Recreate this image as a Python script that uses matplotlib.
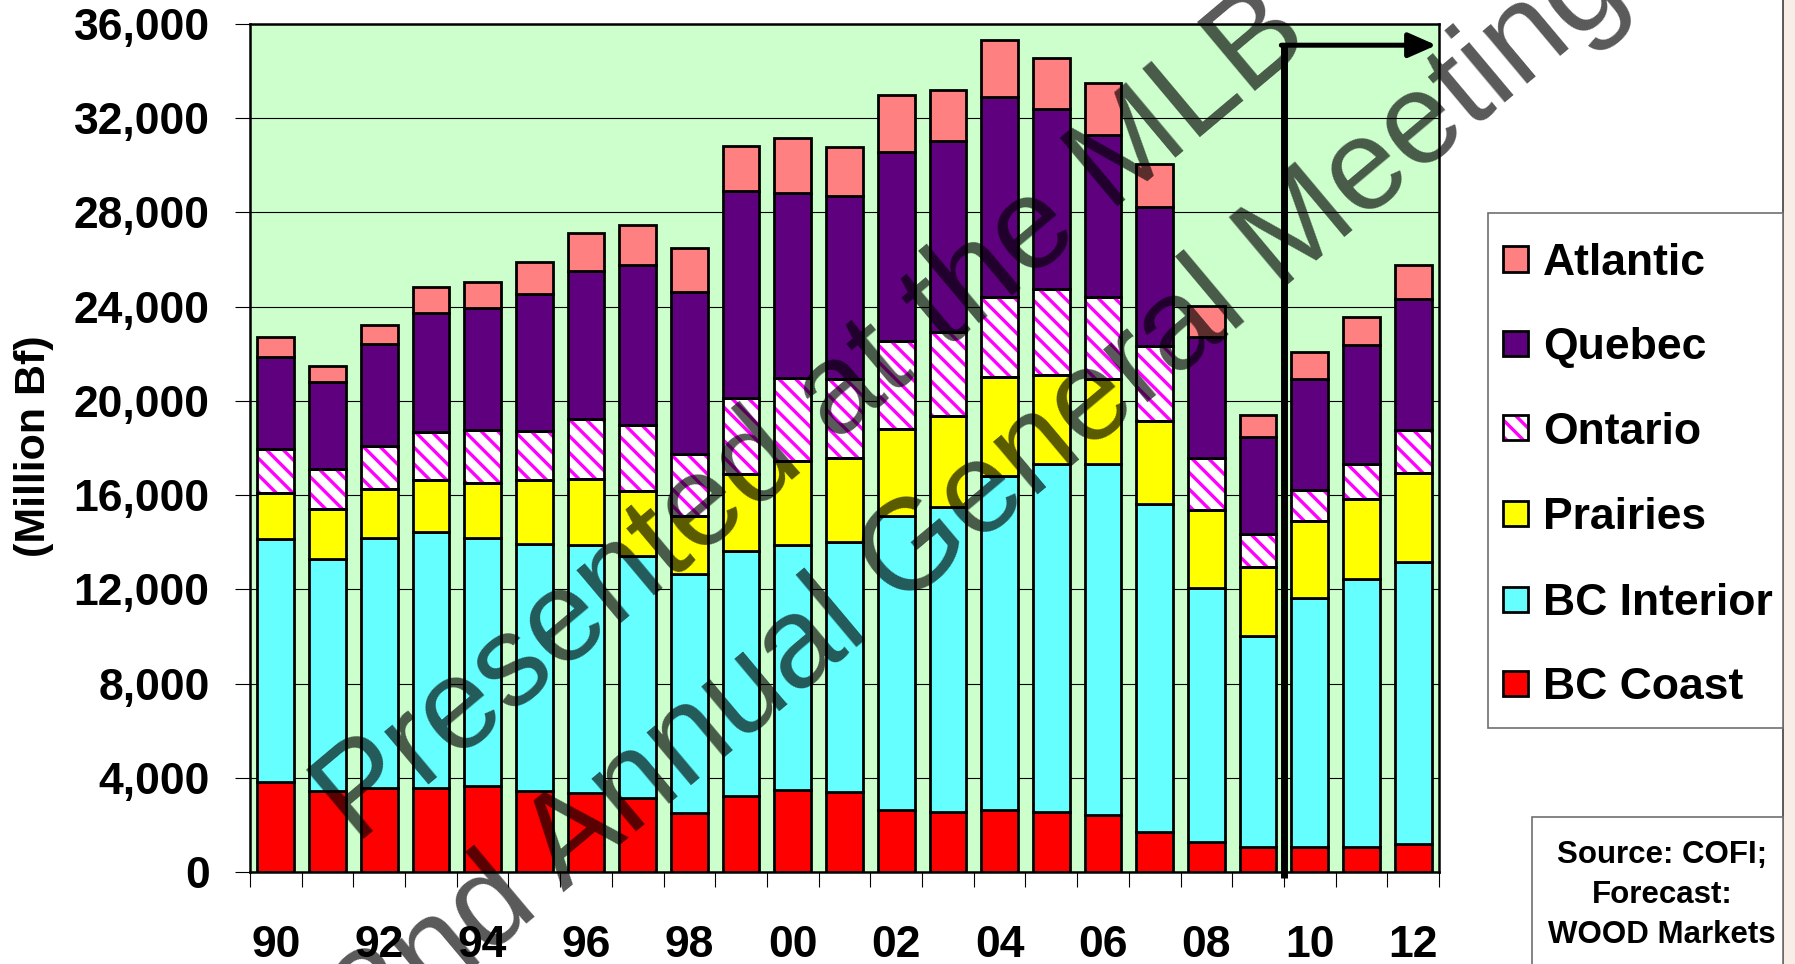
import numpy as np
import matplotlib
matplotlib.use("Agg")
import matplotlib.pyplot as plt
from matplotlib.patches import Rectangle

plt.rcParams['font.family'] = ['Liberation Sans', 'DejaVu Sans']
plt.rcParams['hatch.linewidth'] = 2.4

# ── Canadian lumber production by region (million board feet) ──
years = list(range(1990, 2013))
year_labels = [f"{y % 100:02d}" for y in years]
forecast_start = 2010

bc_coast = [3800, 3450, 3570, 3570, 3650, 3450, 3370, 3130, 2510, 3230, 3470, 3380,
            2640, 2530, 2640, 2530, 2410, 1680, 1290, 1050, 1050, 1050, 1170]
bc_interior = [10350, 9850, 10610, 10860, 10530, 10480, 10530, 10280, 10160, 10380, 10430, 10630,
               12490, 12970, 14190, 14770, 14890, 13940, 10750, 8960, 10570, 11390, 11990]
prairies = [1950, 2100, 2070, 2210, 2320, 2710, 2780, 2780, 2450, 3290, 3530, 3550,
            3690, 3840, 4170, 3810, 3630, 3510, 3320, 2920, 3270, 3410, 3790]
ontario = [1850, 1720, 1820, 2050, 2280, 2100, 2570, 2800, 2640, 3210, 3560, 3350,
           3740, 3570, 3390, 3630, 3460, 3200, 2220, 1400, 1310, 1450, 1820]
quebec = [3920, 3680, 4330, 5020, 5180, 5800, 6260, 6760, 6850, 8810, 7830, 7790,
          8000, 8140, 8510, 7640, 6890, 5890, 5150, 4140, 4730, 5080, 5550]
atlantic = [860, 700, 840, 1130, 1100, 1360, 1610, 1720, 1880, 1880, 2320, 2070,
            2410, 2150, 2400, 2180, 2200, 1820, 1310, 940, 1160, 1190, 1450]

regions = ['BC Coast', 'BC Interior', 'Prairies', 'Ontario', 'Quebec', 'Atlantic']
series = [bc_coast, bc_interior, prairies, ontario, quebec, atlantic]
colors = ['#FF0000', '#66FFFF', '#FFFF00', '#FFFFFF', '#5F007F', '#FF8080']
HATCHED = 'Ontario'
HATCH_COLOR = '#FF00FF'
HATCH = '\\\\'

W, H = 1795, 964
fig = plt.figure(figsize=(W / 100, H / 100), dpi=100)
fig.patch.set_facecolor('white')

# faint strip at the right edge of the slide
fig.add_artist(Rectangle((1783 / W, 0), 1 - 1783 / W, 1, transform=fig.transFigure,
                         facecolor='#F9EDE7', edgecolor='none', zorder=0))
fig.add_artist(plt.Line2D([1783 / W, 1783 / W], [0, 1], transform=fig.transFigure,
                          color='#404040', lw=1.2, zorder=1))

ax = fig.add_axes([250 / W, 1 - 872 / H, (1439 - 250) / W, (872 - 24) / H])
ax.set_facecolor('#CCFFCC')

x = np.arange(len(years))
bottom = np.zeros(len(years))
for name, vals, col in zip(regions, series, colors):
    vals = np.array(vals, dtype=float)
    if name == HATCHED:
        ax.bar(x, vals, 0.71, bottom=bottom, color='white', edgecolor=HATCH_COLOR,
               hatch=HATCH, lw=0, zorder=2)
        ax.bar(x, vals, 0.71, bottom=bottom, fill=False, edgecolor='black', lw=2, zorder=3)
    else:
        ax.bar(x, vals, 0.71, bottom=bottom, color=col, edgecolor='black', lw=2, zorder=3)
    bottom += vals

# axes, ticks, grid
ax.set_xlim(-0.5, len(years) - 0.5)
ax.set_ylim(0, 36000)
yt = np.arange(0, 36001, 4000)
ax.set_yticks(yt)
ax.set_yticklabels([f"{v:,}" for v in yt], fontweight='bold')
ax.yaxis.grid(True, color='black', lw=0.8)
ax.set_axisbelow(True)
ax.tick_params(axis='y', length=11, width=0.8, pad=18, labelsize=32)

ax.set_xticks(x[::2])
ax.set_xticklabels(year_labels[::2], fontweight='bold')
ax.set_xticks(np.arange(-0.5, len(years)), minor=True)
ax.tick_params(axis='x', which='major', length=0, pad=38, labelsize=32)
ax.tick_params(axis='x', which='minor', length=11, width=0.8)
for s in ax.spines.values():
    s.set_linewidth(1.8)
    s.set_color('black')

fig.text(34 / W, 1 - 446 / H, '(Million Bf)', rotation=90, ha='center', va='center',
         fontsize=31, fontweight='bold')

# forecast marker
fx = years.index(forecast_start) - 0.5
ax.plot([fx, fx], [-250, 35100], color='black', lw=5, solid_capstyle='butt',
        clip_on=False, zorder=6)
ax.annotate('', xy=(len(years) - 0.55, 35100), xytext=(fx - 0.05, 35100),
            arrowprops=dict(arrowstyle='-|>,head_length=1.7,head_width=0.75',
                            mutation_scale=10, lw=3.6, color='black',
                            shrinkA=0, shrinkB=0), zorder=6)

# legend box
fig.add_artist(Rectangle((1488 / W, 1 - 728 / H), (1783 - 1488) / W, (728 - 213) / H,
                         transform=fig.transFigure, facecolor='white',
                         edgecolor='#707070', lw=1.2, zorder=2))
row_y = [259, 343, 428, 513, 599, 683]
for yy, name, col in zip(row_y, regions[::-1], colors[::-1]):
    s = 25
    if name == HATCHED:
        fig.add_artist(Rectangle((1503 / W, 1 - (yy + s / 2) / H), s / W, s / H,
                                 transform=fig.transFigure, facecolor='white',
                                 edgecolor=HATCH_COLOR, hatch=HATCH, lw=0, zorder=3))
        fig.add_artist(Rectangle((1503 / W, 1 - (yy + s / 2) / H), s / W, s / H,
                                 transform=fig.transFigure, fill=False,
                                 edgecolor='black', lw=2, zorder=4))
    else:
        fig.add_artist(Rectangle((1503 / W, 1 - (yy + s / 2) / H), s / W, s / H,
                                 transform=fig.transFigure, facecolor=col,
                                 edgecolor='black', lw=2, zorder=4))
    fig.text(1543 / W, 1 - yy / H, name, ha='left', va='center_baseline',
             fontsize=32, fontweight='bold', zorder=4)

# source note
fig.add_artist(Rectangle((1532 / W, -0.02), (1783 - 1532) / W, 1.02 - 817 / H,
                         transform=fig.transFigure, facecolor='white',
                         edgecolor='#707070', lw=1.2, zorder=2))
fig.text(1662 / W, 1 - 895 / H, 'Source: COFI;\nForecast:\nWOOD Markets',
         ha='center', va='center', fontsize=22.5, fontweight='bold',
         linespacing=1.42, zorder=4)

# overlay text
fig.text(813 / W, 1 - 418 / H, 'Presented at the MLB', rotation=40,
         rotation_mode='anchor', ha='center', va='center', fontsize=93,
         color='black', alpha=0.65, zorder=10)
fig.text(982 / W, 1 - 497 / H, '2nd Annual General Meeting', rotation=40,
         rotation_mode='anchor', ha='center', va='center', fontsize=93,
         color='black', alpha=0.65, zorder=10)

fig.savefig('out.png', dpi=100)
